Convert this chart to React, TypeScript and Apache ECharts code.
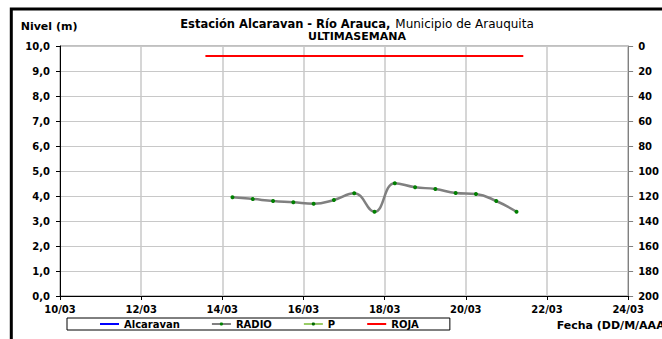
import React, { useEffect, useRef } from "react";
import * as echarts from "echarts";

// ---- data ----
const radioTimes = [
  "2024-03-14 06:00", "2024-03-14 18:00", "2024-03-15 06:00", "2024-03-15 18:00",
  "2024-03-16 06:00", "2024-03-16 18:00", "2024-03-17 06:00", "2024-03-17 18:00",
  "2024-03-18 06:00", "2024-03-18 18:00", "2024-03-19 06:00", "2024-03-19 18:00",
  "2024-03-20 06:00", "2024-03-20 18:00", "2024-03-21 06:00",
];
const radioValues = [3.95, 3.88, 3.8, 3.75, 3.69, 3.84, 4.11, 3.37, 4.51, 4.35, 4.28, 4.12, 4.08, 3.8, 3.37];
const rojaTimes = ["2024-03-13 14:00", "2024-03-21 10:00"];
const rojaValues = [9.6, 9.6];
const alcaravanTimes: string[] = [];
const alcaravanValues: number[] = [];
const pTimes: string[] = [];
const pValues: number[] = [];

const xStart = "2024-03-10 00:00";
const xEnd = "2024-03-24 00:00";
const xStepDays = 2;
const levelMin = 0, levelMax = 10, levelStep = 1;
const precipMin = 0, precipMax = 200, precipStep = 20;

const legendNames = ["Alcaravan", "RADIO", "P", "ROJA"];
const legendLineOnly = ["Alcaravan", "ROJA"];
const titleMain = "Estación Alcaravan - Río Arauca,";
const titleSub = "Municipio de Arauquita";
const titleLine2 = "ULTIMASEMANA";
const yName = "Nivel (m)";
const xName = "Fecha (DD/M/AAAA)";

function toMs(s: string): number {
  const [d, t] = s.split(" ");
  const [y, m, dd] = d.split("-").map(Number);
  const [h, mi] = t.split(":").map(Number);
  return Date.UTC(y, m - 1, dd, h, mi);
}
function pairs(ts: string[], vs: number[]) {
  return ts.map((t, i) => [toMs(t), vs[i]]);
}
const pad = (n: number) => (n < 10 ? "0" + n : "" + n);
const FONT = "DejaVu Sans";

export default function App() {
  const ref = useRef<HTMLDivElement>(null);
  useEffect(() => {
    if (!ref.current) return;
    const chart = echarts.init(ref.current, null, { renderer: "svg" });
    const labelStyle = { fontFamily: FONT, fontWeight: "bold" as const, fontSize: 10, color: "#000" };
    chart.setOption({
      animation: false,
      backgroundColor: "#fff",
      title: [
        {
          text: "{b|" + titleMain + "} {n|" + titleSub + "}",
          left: 357,
          top: 18,
          textAlign: "center",
          padding: 0,
          textStyle: {
            lineHeight: 11,
            rich: {
              b: { fontFamily: FONT, fontWeight: "bold", fontSize: 11.5, lineHeight: 11, color: "#000" },
              n: { fontFamily: FONT, fontWeight: "normal", fontSize: 12, lineHeight: 11, color: "#000" },
            },
          },
        },
        {
          text: titleLine2,
          left: 357,
          top: 31,
          textAlign: "center",
          padding: 0,
          textStyle: { fontFamily: FONT, fontWeight: "bold", fontSize: 11, lineHeight: 11, color: "#000" },
        },
      ],
      grid: {
        left: 60, right: 29, top: 46, bottom: 43,
        show: true, borderColor: "#808080", borderWidth: 1, backgroundColor: "transparent",
      },
      legend: {
        data: legendNames.map((n) =>
          legendLineOnly.includes(n) ? { name: n, itemStyle: { opacity: 0 } } : { name: n }
        ),
        left: 67,
        top: 318,
        orient: "horizontal",
        padding: [1, 31, 1, 32],
        itemGap: 31,
        itemWidth: 19,
        itemHeight: 4,
        borderColor: "#000",
        borderWidth: 1,
        textStyle: { ...labelStyle, fontSize: 10 },
      },
      xAxis: {
        type: "value",
        min: toMs(xStart),
        max: toMs(xEnd),
        interval: xStepDays * 86400000,
        axisLine: { show: true, lineStyle: { color: "#000", width: 1 } },
        axisTick: { show: true, length: 4, lineStyle: { color: "#000" } },
        axisLabel: {
          ...labelStyle,
          margin: 8,
          formatter: (v: number) => {
            const d = new Date(v);
            return pad(d.getUTCDate()) + "/" + pad(d.getUTCMonth() + 1);
          },
        },
        splitLine: { show: true, lineStyle: { color: "#c8c8c8", width: 1.5 } },
      },
      yAxis: [
        {
          type: "value",
          min: levelMin,
          max: levelMax,
          interval: levelStep,
          position: "left",
          axisLine: { show: true, lineStyle: { color: "#000", width: 1 } },
          axisTick: { show: true, length: 4, lineStyle: { color: "#000" } },
          axisLabel: {
            ...labelStyle,
            margin: 10,
            formatter: (v: number) => v.toFixed(1).replace(".", ","),
          },
          splitLine: { show: true, lineStyle: { color: "#c8c8c8", width: 1 } },
        },
        {
          type: "value",
          min: precipMin,
          max: precipMax,
          interval: precipStep,
          inverse: true,
          position: "right",
          axisLine: { show: true, lineStyle: { color: "#808080", width: 1 } },
          axisTick: { show: true, length: 5, lineStyle: { color: "#808080" } },
          axisLabel: { ...labelStyle, margin: 10 },
          splitLine: { show: false },
        },
      ],
      graphic: [
        {
          type: "rect",
          shape: { x: 11.3, y: 9, width: 720, height: 420 },
          style: { fill: "none", stroke: "#000", lineWidth: 3 },
          silent: true,
        },
        {
          type: "text",
          x: 20.7,
          y: 26,
          style: {
            text: yName, fontFamily: FONT, fontWeight: "bold", fontSize: 11,
            fill: "#000", align: "left", verticalAlign: "middle",
          },
        },
        {
          type: "text",
          x: 556.7,
          y: 325,
          style: {
            text: xName, fontFamily: FONT, fontWeight: "bold", fontSize: 11,
            fill: "#000", align: "left", verticalAlign: "middle",
          },
        },
      ],
      series: [
        {
          name: "Alcaravan",
          type: "line",
          data: pairs(alcaravanTimes, alcaravanValues),
          symbol: "none",
          lineStyle: { color: "#0000ff", width: 2 },
          itemStyle: { color: "#0000ff" },
        },
        {
          name: "RADIO",
          type: "line",
          data: pairs(radioTimes, radioValues),
          smooth: 0.45,
          symbol: "circle",
          symbolSize: 4,
          lineStyle: { color: "#808080", width: 2.5 },
          itemStyle: { color: "#008000", borderWidth: 0 },
          z: 3,
        },
        {
          name: "P",
          type: "line",
          data: pairs(pTimes, pValues),
          symbol: "circle",
          symbolSize: 4,
          lineStyle: { color: "#99cc66", width: 2 },
          itemStyle: { color: "#006600", borderWidth: 0 },
        },
        {
          name: "ROJA",
          type: "line",
          data: pairs(rojaTimes, rojaValues),
          symbol: "none",
          lineStyle: { color: "#ff0000", width: 2 },
          itemStyle: { color: "#ff0000" },
        },
      ],
    });
    return () => chart.dispose();
  }, []);
  return (
    <div
      ref={ref}
      style={{ position: "fixed", left: 0, top: 0, width: 662, height: 339, background: "#fff" }}
    />
  );
}
